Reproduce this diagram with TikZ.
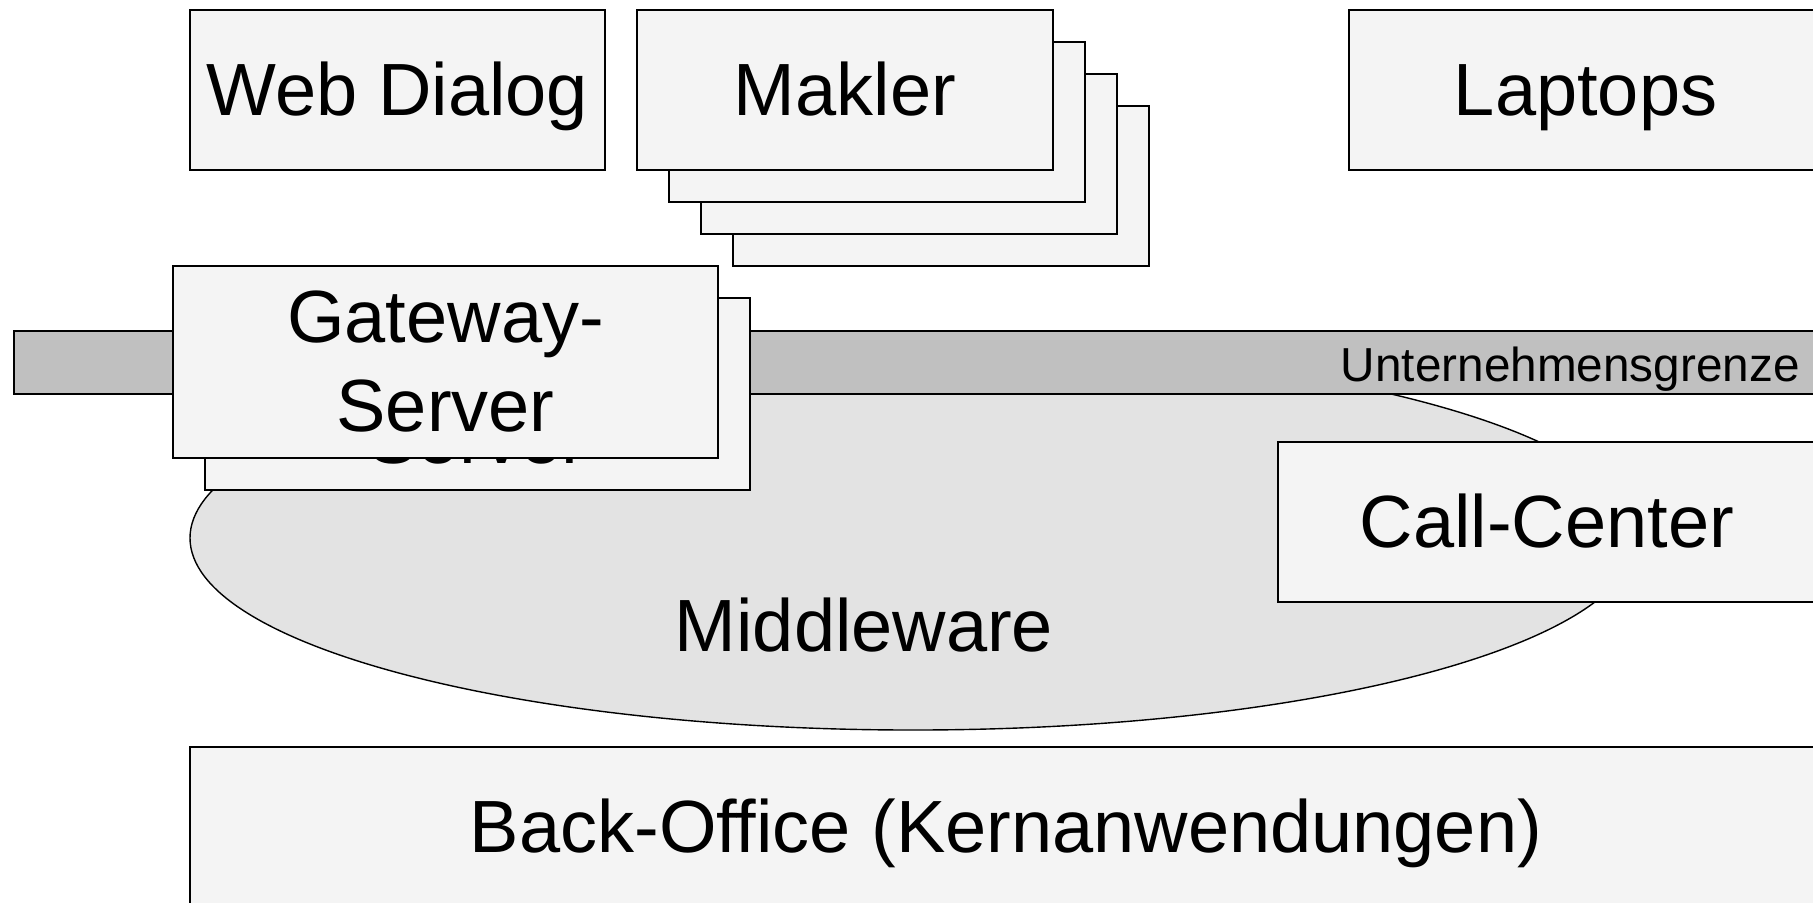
\documentclass[tikz,border=0pt]{standalone}
\usepackage{fontspec}
\setmainfont{Liberation Sans}
\usetikzlibrary{shapes.geometric}
\definecolor{boxfill}{HTML}{F4F4F4}
\definecolor{ellfill}{HTML}{E3E3E3}
\definecolor{barfill}{HTML}{C0C0C0}
\newcommand{\diagbig}{\fontsize{37}{44.5}\selectfont}
\newcommand{\diagsmall}{\fontsize{23.85}{28.6}\selectfont}
\begin{document}
\begin{tikzpicture}[x=0.5pt,y=-0.5pt,
  basebox/.style={rectangle, draw=black, line width=0.7pt, fill=boxfill, inner sep=0pt, font=\diagbig},
  onebox/.style={basebox, text height=33.5pt, text depth=7.85pt},
  multibox/.style={basebox, align=center},
  midell/.style={ellipse, draw=black, line width=0.7pt, fill=ellfill, inner sep=0pt},
  grenzbar/.style={rectangle, draw=black, line width=0.7pt, fill=barfill, inner sep=0pt},
  bigtext/.style={font=\diagbig, inner sep=0pt},
  smalltext/.style={font=\diagsmall, inner sep=0pt}]
\useasboundingbox (0,0) rectangle (1813,902);
\clip (0,0) rectangle (1813,902);
% middleware ellipse
\node[midell, minimum width=723pt, minimum height=192pt] (mw) at (913,538) {};
\node[bigtext, anchor=base] (mwl) at (864,651) {Middleware};
% company boundary bar
\node[grenzbar, minimum width=908pt, minimum height=31.5pt] (bar) at (922,362.5) {};
\node[smalltext, anchor=base east] (barl) at (1800,381) {Unternehmensgrenze};
% gateway servers
\node[multibox, minimum width=272.5pt, minimum height=96pt] (gw2) at (477.5,394) {Gateway-\\Server};
\node[multibox, minimum width=272.5pt, minimum height=96pt] (gw) at (445.5,362) {Gateway-\\Server};
% call center
\node[onebox, minimum width=269pt, minimum height=80pt] (cc) at (1547,522) {Call-Center};
% top row
\node[onebox, minimum width=207.5pt, minimum height=80pt] (web) at (397.5,90) {Web Dialog};
\node[onebox, minimum width=208pt, minimum height=80pt] (mak3) at (941,186) {};
\node[onebox, minimum width=208pt, minimum height=80pt] (mak2) at (909,154) {};
\node[onebox, minimum width=208pt, minimum height=80pt] (mak1) at (877,122) {};
\node[onebox, minimum width=208pt, minimum height=80pt] (mak) at (845,90) {Makler};
\node[onebox, minimum width=236.5pt, minimum height=80pt] (lap) at (1585.5,90) {Laptops};
% back office
\node[onebox, minimum width=816pt, minimum height=80pt] (bo) at (1006,827) {Back-Office (Kernanwendungen)};
\end{tikzpicture}
\end{document}
